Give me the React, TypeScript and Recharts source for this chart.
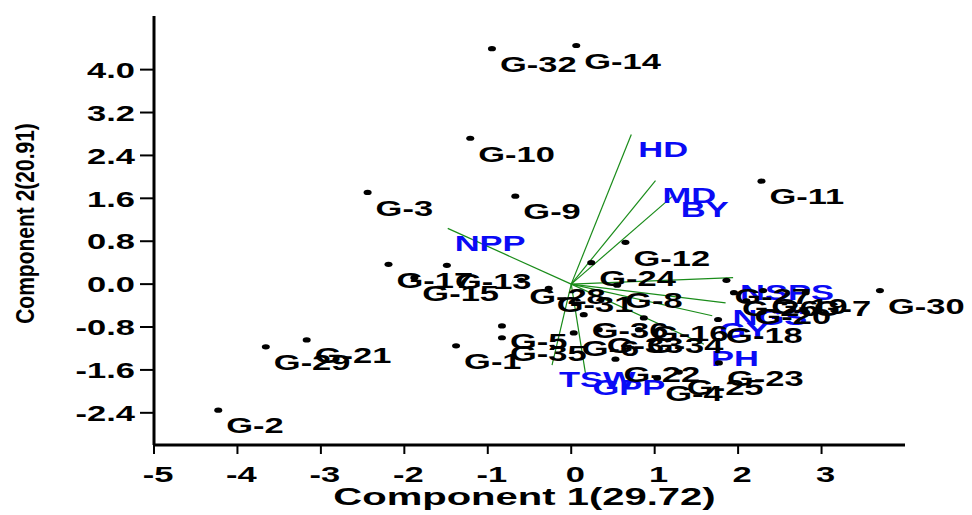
import React from 'react';
import { ScatterChart, Scatter, XAxis, YAxis, ReferenceLine, Label } from 'recharts';

// genotype scores (PC1, PC2)
const genotypeLabels = [
  'G-1', 'G-2', 'G-3', 'G-4', 'G-5', 'G-6', 'G-7', 'G-8', 'G-9', 'G-10', 'G-11', 'G-12',
  'G-13', 'G-14', 'G-15', 'G-16', 'G-17', 'G-18', 'G-19', 'G-20', 'G-21', 'G-22', 'G-23', 'G-24',
  'G-25', 'G-26', 'G-27', 'G-28', 'G-29', 'G-30', 'G-31', 'G-32', 'G-33', 'G-34', 'G-35', 'G-36',
];
const pc1Scores = [
  -1.38, -4.23, -2.44, 1.03, -0.83, 0.03, 2.81, 0.55, -0.67, -1.21, 2.28, 0.65,
  -1.49, 0.06, -1.88, 0.87, -2.19, 1.76, 2.3, 2.1, -3.17, 0.53, 1.77, 0.24,
  1.29, 1.95, 1.86, -0.6, -3.66, 3.7, -0.27, -0.95, 0.33, 0.81, -0.83, 0.15,
];
const pc2Scores = [
  -1.15, -2.35, 1.71, -1.75, -0.78, -0.91, -0.16, -0.02, 1.64, 2.72, 1.92, 0.78,
  0.35, 4.45, 0.12, -0.63, 0.37, -0.66, -0.12, -0.31, -1.04, -1.4, -1.47, 0.4,
  -1.64, -0.16, 0.07, 0.07, -1.17, -0.12, -0.08, 4.39, -0.85, -0.85, -1.0, -0.57,
];

// trait loadings (vectors from origin)
const traitLabels = ['HD', 'MD', 'BY', 'NPP', 'NSPS', 'NGS', 'GY', 'PH', 'TSW', 'GPP'];
const traitPc1 = [0.72, 1.01, 1.23, -1.48, 1.94, 1.85, 1.69, 1.59, -0.23, 0.17];
const traitPc2 = [2.79, 1.93, 1.66, 1.04, 0.12, -0.35, -0.59, -1.12, -1.51, -1.66];

const xTicks = [-5, -4, -3, -2, -1, 0, 1, 2, 3];
const yTicks = [-2.4, -1.6, -0.8, 0, 0.8, 1.6, 2.4, 3.2, 4.0];

const genotypeData = genotypeLabels.map((name, i) => ({ name, x: pc1Scores[i], y: pc2Scores[i] }));
const traitData = traitLabels.map((name, i) => ({ name, x: traitPc1[i], y: traitPc2[i] }));

const FONT = '"Liberation Sans", Arial, sans-serif';

const GenotypeDot = (props: any) => {
  const { cx, cy, payload } = props;
  return (
    <g>
      <ellipse cx={cx} cy={cy} rx={4} ry={2.6} fill="#000" />
      <text
        transform={`translate(${cx + 8},${cy + 15}) scale(1.5,1)`}
        fontFamily={FONT}
        fontWeight="bold"
        fontSize={23}
        fill="#000"
        dominantBaseline="central"
      >
        {payload.name}
      </text>
    </g>
  );
};

const TraitLabel = (props: any) => {
  const { cx, cy, payload } = props;
  return (
    <text
      transform={`translate(${cx + 7},${cy + 14}) scale(1.5,1)`}
      fontFamily={FONT}
      fontWeight="bold"
      fontSize={23}
      fill="#0a0af5"
      dominantBaseline="central"
    >
      {payload.name}
    </text>
  );
};

const XTick = (props: any) => {
  const { x, y, payload } = props;
  return (
    <text
      transform={`translate(${x + 4},${y + 18}) scale(1.5,1)`}
      fontFamily={FONT}
      fontWeight="bold"
      fontSize={23}
      fill="#000"
      textAnchor="middle"
      dominantBaseline="central"
    >
      {payload.value}
    </text>
  );
};

const YTick = (props: any) => {
  const { x, y, payload } = props;
  return (
    <text
      transform={`translate(${x - 3},${y}) scale(1.5,1)`}
      fontFamily={FONT}
      fontWeight="bold"
      fontSize={23}
      fill="#000"
      textAnchor="end"
      dominantBaseline="central"
    >
      {Number(payload.value).toFixed(1)}
    </text>
  );
};

const XTitle = (props: any) => {
  const { x, y, width } = props.viewBox;
  return (
    <text
      transform={`translate(${x + width / 2 - 5},${y + 52}) scale(1.74,1)`}
      fontFamily={FONT}
      fontWeight="bold"
      fontSize={23}
      fill="#000"
      textAnchor="middle"
      dominantBaseline="central"
    >
      Component 1(29.72)
    </text>
  );
};

const YTitle = (props: any) => {
  const { x, y, height } = props.viewBox;
  return (
    <text
      transform={`translate(${x + 17},${y + height / 2 - 7}) rotate(-90) scale(1,1.25)`}
      fontFamily={FONT}
      fontWeight="bold"
      fontSize={21}
      fill="#000"
      textAnchor="middle"
      dominantBaseline="central"
    >
      Component 2(20.91)
    </text>
  );
};

export default function App() {
  return (
    <ScatterChart width={964} height={507} margin={{ top: 8, right: 67, left: 0, bottom: 7 }}>
      <XAxis
        type="number"
        dataKey="x"
        domain={[-5, 4]}
        ticks={xTicks}
        height={63}
        axisLine={{ stroke: '#000', strokeWidth: 3 }}
        tickLine={{ stroke: '#000', strokeWidth: 2 }}
        tickSize={9}
        tick={<XTick />}
      >
        <Label content={<XTitle />} />
      </XAxis>
      <YAxis
        type="number"
        dataKey="y"
        domain={[-3, 5]}
        ticks={yTicks}
        width={146}
        axisLine={{ stroke: '#000', strokeWidth: 3 }}
        tickLine={{ stroke: '#000', strokeWidth: 2 }}
        tickSize={14}
        tick={<YTick />}
      >
        <Label content={<YTitle />} />
      </YAxis>
      {traitData.map((t) => (
        <ReferenceLine
          key={t.name}
          segment={[{ x: 0, y: 0 }, { x: t.x, y: t.y }]}
          stroke="#1a8c1a"
          strokeWidth={1.2}
          ifOverflow="visible"
        />
      ))}
      <Scatter data={traitData} shape={<TraitLabel />} isAnimationActive={false} />
      <Scatter data={genotypeData} shape={<GenotypeDot />} isAnimationActive={false} />
    </ScatterChart>
  );
}
